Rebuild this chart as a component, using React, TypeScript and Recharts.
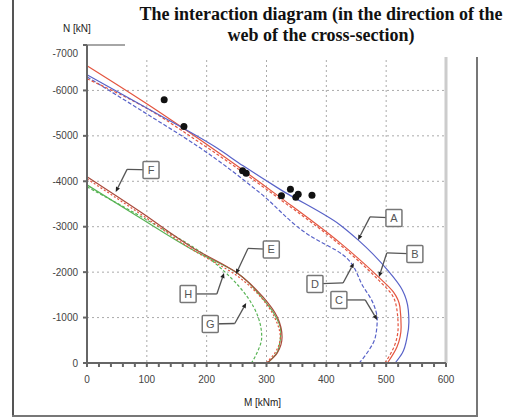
import React from "react";
import {
  ComposedChart,
  Line,
  Scatter,
  XAxis,
  YAxis,
  CartesianGrid,
  ReferenceLine,
  ReferenceDot,
} from "recharts";

type Pt = { m: number; n: number };

// upper group
const curveA: Pt[] = [
  { m: 0, n: -6345 }, { m: 105, n: -5574 }, { m: 214, n: -4758 }, { m: 261, n: -4340 },
  { m: 324, n: -3811 }, { m: 423, n: -3040 }, { m: 453, n: -2710 }, { m: 502, n: -2049 },
  { m: 527, n: -1608 }, { m: 537, n: -1168 }, { m: 538, n: -903 }, { m: 535, n: -573 },
  { m: 527, n: -220 }, { m: 515, n: 0 },
];
const curveB: Pt[] = [
  { m: 0, n: -6543 }, { m: 105, n: -5662 }, { m: 189, n: -4913 }, { m: 324, n: -3635 },
  { m: 423, n: -2644 }, { m: 487, n: -1895 }, { m: 512, n: -1564 }, { m: 523, n: -1234 },
  { m: 525, n: -793 }, { m: 518, n: -352 }, { m: 502, n: 0 },
];
const curveC: Pt[] = [
  { m: 0, n: -6300 }, { m: 105, n: -5441 }, { m: 189, n: -4736 }, { m: 289, n: -3745 },
  { m: 373, n: -2798 }, { m: 428, n: -2379 }, { m: 462, n: -1674 }, { m: 478, n: -1322 },
  { m: 485, n: -947 }, { m: 482, n: -573 }, { m: 468, n: -220 }, { m: 455, n: 0 },
];
const curveD: Pt[] = [
  { m: 0, n: -6256 }, { m: 80, n: -5750 }, { m: 189, n: -4847 }, { m: 324, n: -3591 },
  { m: 423, n: -2600 }, { m: 487, n: -1829 }, { m: 510, n: -1498 }, { m: 518, n: -1168 },
  { m: 520, n: -793 }, { m: 513, n: -352 }, { m: 498, n: 0 },
];

// lower group
const curveE: Pt[] = [
  { m: 0, n: -3921 }, { m: 89, n: -3194 }, { m: 177, n: -2489 }, { m: 251, n: -1983 },
  { m: 294, n: -1410 }, { m: 312, n: -1100 }, { m: 324, n: -700 }, { m: 320, n: -300 },
  { m: 302, n: 0 },
];
const curveF: Pt[] = [
  { m: 0, n: -4098 }, { m: 89, n: -3327 }, { m: 177, n: -2533 }, { m: 251, n: -1983 },
  { m: 294, n: -1454 }, { m: 318, n: -1013 }, { m: 326, n: -573 }, { m: 318, n: -220 },
  { m: 301, n: 0 },
];
const curveG: Pt[] = [
  { m: 0, n: -3877 }, { m: 100, n: -3150 }, { m: 201, n: -2335 }, { m: 239, n: -1895 },
  { m: 268, n: -1454 }, { m: 286, n: -1013 }, { m: 292, n: -573 }, { m: 284, n: -220 },
  { m: 275, n: 0 },
];
const curveH: Pt[] = [
  { m: 0, n: -4054 }, { m: 89, n: -3283 }, { m: 177, n: -2489 }, { m: 251, n: -1917 },
  { m: 293, n: -1410 }, { m: 314, n: -991 }, { m: 323, n: -573 }, { m: 314, n: -220 },
  { m: 299, n: 0 },
];

// test results
const tests: Pt[] = [
  { m: 129, n: -5794 }, { m: 162, n: -5206 }, { m: 260, n: -4230 }, { m: 266, n: -4179 },
  { m: 325, n: -3679 }, { m: 340, n: -3827 }, { m: 349, n: -3650 }, { m: 353, n: -3716 },
  { m: 376, n: -3694 },
];

const xTicks = [
  0, 20, 40, 60, 80, 100, 120, 140, 160, 180, 200, 220, 240, 260, 280, 300,
  320, 340, 360, 380, 400, 420, 440, 460, 480, 500, 520, 540, 560, 580, 600,
];
const yTicks = [-7000, -6000, -5000, -4000, -3000, -2000, -1000, 0];
const gridX = [100, 200, 300, 400, 500];
const gridY = [-6000, -5000, -4000, -3000, -2000, -1000];

// callouts: box centre, elbow, arrow tip
const callouts = [
  { name: "A", box: [513, -3194], elbow: [473, -3216], tip: [453, -2709] },
  { name: "B", box: [548, -2401], elbow: [501, -2423], tip: [488, -1894] },
  { name: "C", box: [421, -1388], elbow: [465, -1388], tip: [485, -947] },
  { name: "D", box: [381, -1740], elbow: [428, -1762], tip: [446, -2203] },
  { name: "E", box: [308, -2500], elbow: [269, -2522], tip: [249, -1960] },
  { name: "F", box: [107, -4251], elbow: [67, -4262], tip: [48, -3766] },
  { name: "G", box: [206, -859], elbow: [247, -870], tip: [266, -1322] },
  { name: "H", box: [169, -1520], elbow: [217, -1520], tip: [229, -1982] },
];

const BLUE = "#5862c8";
const RED = "#e4553f";
const BROWN = "#a9493b";
const GREEN = "#58b455";
const FONT = "Liberation Sans, Arial, sans-serif";

const plainSeg = (p: any) => (
  <line x1={p.x1} y1={p.y1} x2={p.x2} y2={p.y2} stroke="#555" strokeWidth={1.3} />
);

const arrowSeg = (p: any) => {
  const dx = p.x2 - p.x1;
  const dy = p.y2 - p.y1;
  const len = Math.hypot(dx, dy) || 1;
  const ux = dx / len;
  const uy = dy / len;
  const bx = p.x2 - ux * 5;
  const by = p.y2 - uy * 5;
  return (
    <g>
      <line x1={p.x1} y1={p.y1} x2={bx} y2={by} stroke="#555" strokeWidth={1.3} />
      <polygon
        points={`${p.x2},${p.y2} ${bx - uy * 2.2},${by + ux * 2.2} ${bx + uy * 2.2},${by - ux * 2.2}`}
        fill="#222"
      />
    </g>
  );
};

const boxShape = (name: string) => (p: any) => (
  <g>
    <rect x={p.cx - 8} y={p.cy - 8.5} width={16} height={17} rx={1} fill="#fff" stroke="#777" strokeWidth={1.5} />
    <text x={p.cx} y={p.cy} dy="0.36em" textAnchor="middle" fontSize={11} fill="#555" fontFamily={FONT}>
      {name}
    </text>
  </g>
);

const YTick = (p: any) => (
  <text
    x={p.x}
    y={p.y + (p.payload.value === -7000 ? 8 : 0)}
    dy="0.36em"
    textAnchor="end"
    fontSize={10}
    fill="#444"
    fontFamily={FONT}
  >
    {p.payload.value}
  </text>
);

const line = (data: Pt[], color: string, dash?: string) => (
  <Line
    data={data}
    dataKey="n"
    type="monotoneY"
    stroke={color}
    strokeWidth={1.2}
    strokeDasharray={dash}
    dot={false}
    activeDot={false}
    isAnimationActive={false}
  />
);

const App = () => {
  return (
    <div style={{ position: "absolute", left: 0, top: 0, width: 505, height: 418, background: "#fff" }}>
      <ComposedChart width={505} height={418} margin={{ top: 45, right: 59, bottom: 10, left: 37 }}>
        <CartesianGrid stroke="#aaa" strokeDasharray="2 3" verticalValues={gridX} horizontalValues={gridY} />
        <XAxis
          type="number"
          dataKey="m"
          domain={[0, 600]}
          ticks={xTicks}
          interval={0}
          height={45}
          tickSize={4}
          tickMargin={9}
          tickFormatter={(v: number) => (v % 100 === 0 ? String(v) : "")}
          tick={{ fontSize: 10, fill: "#444", fontFamily: FONT }}
          stroke="#666"
          strokeWidth={2}
          label={{ value: "M [kNm]", position: "insideBottom", offset: 2, dx: -4, fontSize: 10, fill: "#222", fontFamily: FONT }}
        />
        <YAxis
          type="number"
          domain={[-7000, 0]}
          reversed
          ticks={yTicks}
          interval={0}
          width={50}
          tickSize={4}
          tickMargin={5}
          tick={YTick}
          stroke="#666"
          strokeWidth={2}
        />
        <ReferenceLine y={-7000} stroke="#888" strokeWidth={1.5} />
        <ReferenceLine x={600} stroke="#ccc" strokeWidth={3} />

        {line(curveC, BLUE, "4 2")}
        {line(curveD, RED, "3 2")}
        {line(curveB, RED)}
        {line(curveA, BLUE)}
        {line(curveG, GREEN, "3 2")}
        {line(curveE, GREEN)}
        {line(curveH, RED, "2 2")}
        {line(curveF, BROWN)}

        <Scatter
          data={tests}
          dataKey="n"
          isAnimationActive={false}
          shape={(p: any) => <circle cx={p.cx} cy={p.cy} r={3.5} fill="#111" />}
        />

        {callouts.map((c) => (
          <ReferenceLine
            key={c.name + "1"}
            segment={[{ x: c.box[0], y: c.box[1] }, { x: c.elbow[0], y: c.elbow[1] }]}
            shape={plainSeg}
          />
        ))}
        {callouts.map((c) => (
          <ReferenceLine
            key={c.name + "2"}
            segment={[{ x: c.elbow[0], y: c.elbow[1] }, { x: c.tip[0], y: c.tip[1] }]}
            shape={arrowSeg}
          />
        ))}
        {callouts.map((c) => (
          <ReferenceDot key={c.name} x={c.box[0]} y={c.box[1]} r={8} shape={boxShape(c.name)} />
        ))}
      </ComposedChart>

      {/* outer frame */}
      <div style={{ position: "absolute", left: 12, top: 0, width: 2, height: 417, background: "#555" }} />
      <div style={{ position: "absolute", left: 12, top: 415, width: 466, height: 2, background: "#777" }} />
      <div style={{ position: "absolute", left: 476, top: 57, width: 2, height: 360, background: "#777" }} />

      <div
        style={{
          position: "absolute",
          left: 125,
          top: 0,
          width: 380,
          height: 57,
          paddingLeft: 12,
          paddingTop: 4,
          boxSizing: "border-box",
          background: "#fff",
          textAlign: "center",
          fontFamily: "Liberation Serif, Times New Roman, serif",
          fontWeight: "bold",
          fontSize: 18,
          lineHeight: "21px",
          whiteSpace: "nowrap",
          color: "#111",
        }}
      >
        The interaction diagram (in the direction of the
        <br />
        web of the cross-section)
      </div>
      <div
        style={{
          position: "absolute",
          left: 63,
          top: 23,
          fontFamily: FONT,
          fontSize: 10,
          color: "#222",
          lineHeight: "12px",
        }}
      >
        N [kN]
      </div>
    </div>
  );
};

export default App;
